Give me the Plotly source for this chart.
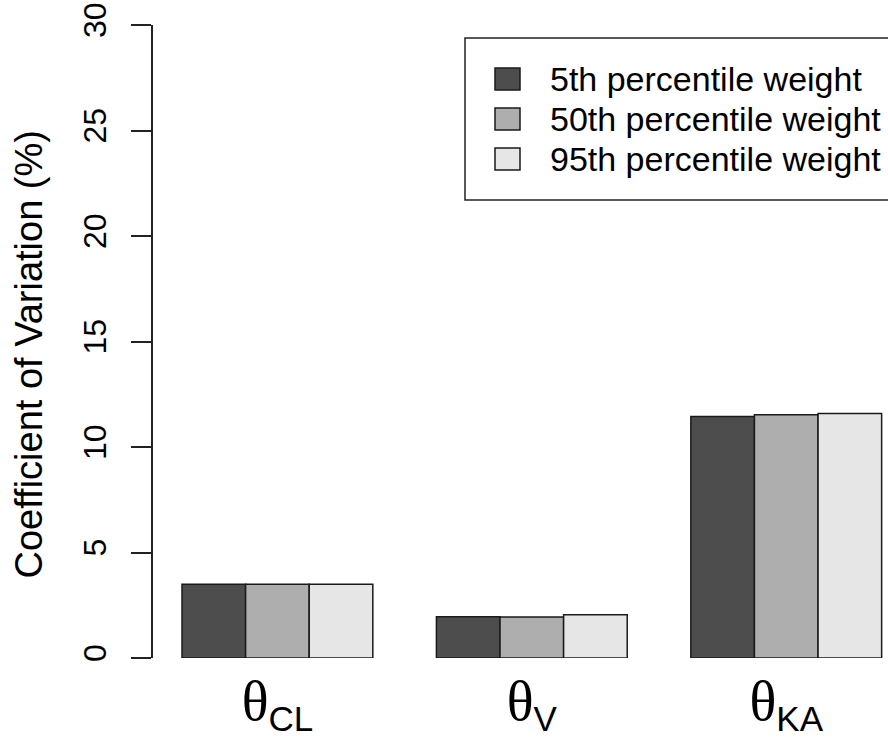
import plotly.graph_objects as go

# ---- data ----
categories = ["CL", "V", "KA"]
tick_labels = [
    '<span style="font-family:Liberation Serif;font-size:56px">θ</span><sub>CL</sub>',
    '<span style="font-family:Liberation Serif;font-size:56px">θ</span><sub>V</sub>',
    '<span style="font-family:Liberation Serif;font-size:56px">θ</span><sub>KA</sub>',
]
series_names = ["5th percentile weight", "50th percentile weight", "95th percentile weight"]
cv_5th = [3.50, 1.96, 11.45]
cv_50th = [3.50, 1.94, 11.53]
cv_95th = [3.50, 2.05, 11.59]
series_values = [cv_5th, cv_50th, cv_95th]
colors = ["#4D4D4D", "#AEAEAE", "#E6E6E6"]
y_ticks = [0, 5, 10, 15, 20, 25, 30]

W, H = 888, 740
ML, MR, MT, MB = 153, 0, 25, 82
PW, PH = W - ML - MR, H - MT - MB
FONT = "Liberation Sans, Arial, Helvetica, sans-serif"


def px_x(px):
    return (px - ML) / PW


def px_y(py):
    return (H - MB - py) / PH


fig = go.Figure()
for name, vals, col in zip(series_names, series_values, colors):
    fig.add_trace(go.Bar(
        x=categories, y=vals, name=name,
        marker=dict(color=col, line=dict(color="#1a1a1a", width=1.5)),
        showlegend=False,
    ))

fig.update_layout(
    width=W, height=H,
    margin=dict(l=ML, r=MR, t=MT, b=MB, pad=0, autoexpand=False),
    paper_bgcolor="white", plot_bgcolor="white",
    barmode="group", bargap=0.25, bargroupgap=0,
    font=dict(family=FONT, color="black"),
)

fig.update_xaxes(
    type="category",
    range=[-0.489, 2.40],
    tickmode="array", tickvals=categories, ticktext=tick_labels,
    tickfont=dict(size=50, family=FONT, color="black"),
    showline=False, ticks="", showgrid=False, zeroline=False,
    ticklabelstandoff=11, automargin=False,
)

fig.update_yaxes(
    range=[0, 30],
    tickmode="array", tickvals=y_ticks, ticktext=[str(t) for t in y_ticks],
    tickangle=-90,
    tickfont=dict(size=32, family=FONT, color="black"),
    showline=True, linecolor="#222222", linewidth=1.5,
    ticks="outside", ticklen=20, tickwidth=1.5, tickcolor="#222222",
    showgrid=False, zeroline=False,
    ticklabelstandoff=12, automargin=False,
)

# y-axis title
fig.add_annotation(
    text="Coefficient of Variation (%)",
    xref="paper", yref="paper",
    x=px_x(28.5), y=px_y(355),
    xanchor="center", yanchor="middle",
    textangle=-90, showarrow=False,
    font=dict(size=38, family=FONT, color="black"),
)

# legend (box, swatches, labels)
fig.add_shape(type="rect", xref="paper", yref="paper",
              x0=px_x(465), x1=px_x(905), y0=px_y(200), y1=px_y(38),
              line=dict(color="#222222", width=1.5), fillcolor="rgba(0,0,0,0)",
              layer="above")
row_centers = [79, 119, 159]
for name, col, yc in zip(series_names, colors, row_centers):
    fig.add_shape(type="rect", xref="paper", yref="paper",
                  x0=px_x(495), x1=px_x(520), y0=px_y(yc + 11), y1=px_y(yc - 11),
                  line=dict(color="#1a1a1a", width=1.5), fillcolor=col, layer="above")
    fig.add_annotation(
        text=name, xref="paper", yref="paper",
        x=px_x(548), y=px_y(yc), xanchor="left", yanchor="middle",
        showarrow=False, font=dict(size=34, family=FONT, color="black"),
    )

fig.write_html("out.html")
